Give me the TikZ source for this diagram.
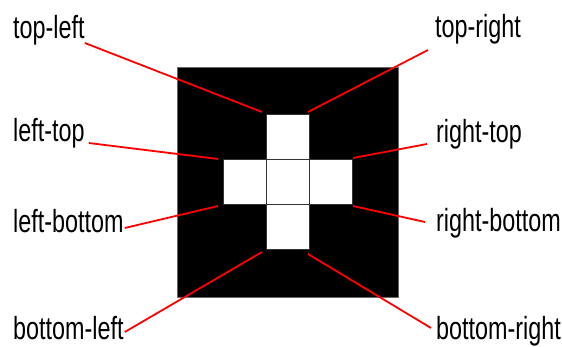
\documentclass[tikz,border=0pt]{standalone}
\usepackage{fontspec}
\setmainfont{Liberation Sans}[FakeStretch=0.73]
\usetikzlibrary{positioning}
\tikzset{every node/.style={font=\fontsize{32}{36}\selectfont},
 cell/.style={draw=black!80,fill=white,line width=.8pt,minimum width=43pt,minimum height=45pt,inner sep=0pt,outer sep=0pt},
 lbl/.style={inner sep=0pt},
 lead/.style={draw=red,line width=1.8pt}}
\begin{document}
\begin{tikzpicture}[x=1pt,y=-1pt]

\path[use as bounding box] (0,0) rectangle (562,347);
\node[draw=black!60,fill=black,line width=.8pt,inner sep=0pt,minimum width=221pt,minimum height=230pt] (frame) at (287.5,182) {};
% cross of white cells
\node[cell] (c) at (287.5,181.5) {};
\node[cell,above=0pt of c] (n) {};
\node[cell,below=0pt of c] (s) {};
\node[cell,left=0pt of c] (w) {};
\node[cell,right=0pt of c] (e) {};
% labels
\node[lbl,anchor=base west] (tl) at (13,39) {top-left};
\node[lbl,anchor=base west] (lt) at (13,142) {left-top};
\node[lbl,anchor=base west] (lb) at (13,233) {left-bottom};
\node[lbl,anchor=base west] (bl) at (13,339) {bottom-left};
\node[lbl,anchor=base west] (tr) at (435,38) {top-right};
\node[lbl,anchor=base west] (rt) at (436,143) {right-top};
\node[lbl,anchor=base west] (rb) at (436,232) {right-bottom};
\node[lbl,anchor=base west] (br) at (436,339) {bottom-right};
% ends near the cells
\coordinate (tlx) at ([shift={(-4pt,2pt)}]n.north west);
\coordinate (trx) at ([shift={(-1pt,2pt)}]n.north east);
\coordinate (ltx) at ([shift={(-5pt,0pt)}]w.north west);
\coordinate (rtx) at ([shift={(1pt,1pt)}]e.north east);
\coordinate (lbx) at ([shift={(-5pt,-2pt)}]w.south west);
\coordinate (rbx) at ([shift={(1pt,-2pt)}]e.south east);
\coordinate (blx) at ([shift={(-4pt,-3pt)}]s.south west);
\coordinate (brx) at ([shift={(-1pt,-5pt)}]s.south east);
% leader lines
\draw[lead] ([yshift=-4pt]tl.base east) -- (tlx);
\draw[lead] ([shift={(4pt,-1pt)}]lt.base east) -- (ltx);
\draw[lead] ([shift={(1pt,5pt)}]lb.base east) -- (lbx);
\draw[lead] ([shift={(1pt,7pt)}]bl.base east) -- (blx);
\draw[lead] ([shift={(-7pt,-12pt)}]tr.base west) -- (trx);
\draw[lead] ([shift={(-9pt,-1pt)}]rt.base west) -- (rtx);
\draw[lead] ([shift={(-11pt,10pt)}]rb.base west) -- (rbx);
\draw[lead] ([shift={(-5pt,11pt)}]br.base west) -- (brx);

\end{tikzpicture}
\end{document}
